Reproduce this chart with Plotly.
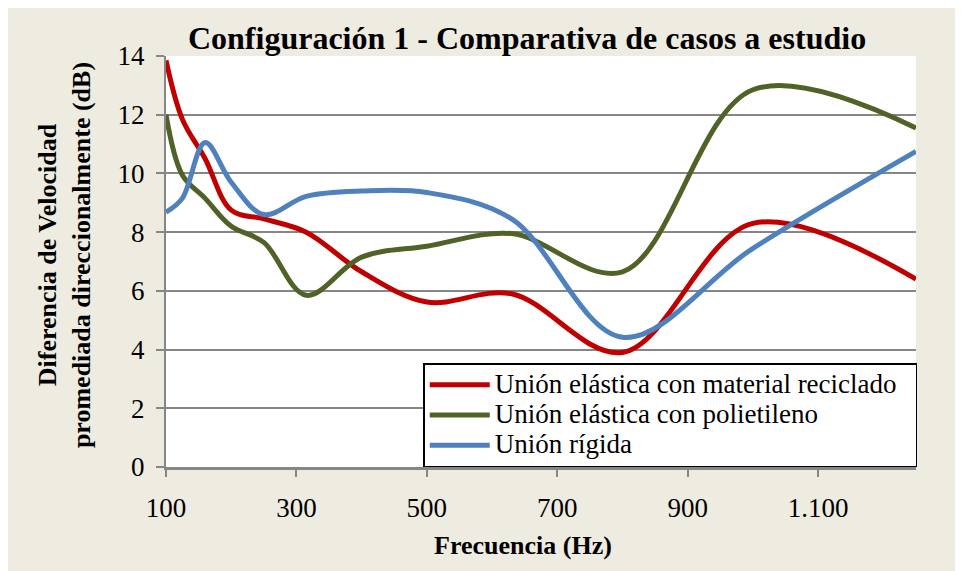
import plotly.graph_objects as go

# 1/3 octave band centres (Hz)
frecuencias = [100, 125, 160, 200, 250, 315, 400, 500, 630, 800, 1000, 1250]

# Diferencia de velocidad (dB) per case
reciclado = [13.85, 11.85, 10.5, 8.75, 8.45, 8.0, 6.65, 5.62, 5.9, 3.9, 8.3, 6.4]
polietileno = [12.0, 9.95, 9.15, 8.2, 7.65, 5.85, 7.15, 7.52, 7.95, 6.65, 12.85, 11.55]
rigida = [8.68, 9.15, 11.05, 9.7, 8.6, 9.22, 9.4, 9.35, 8.45, 4.42, 7.45, 10.75]

nombres = ['Unión elástica con material reciclado',
           'Unión elástica con polietileno',
           'Unión rígida']
colores = ['#C00000', '#4F6228', '#4F81BD']

x_ticks = [100, 300, 500, 700, 900, 1100]
y_ticks = [0, 2, 4, 6, 8, 10, 12, 14]

FONT = 'Liberation Serif'

fig = go.Figure()

for serie, nombre, color in zip([reciclado, polietileno, rigida], nombres, colores):
    fig.add_trace(go.Scatter(
        x=frecuencias,
        y=serie,
        mode='lines',
        # legend rows are packed tighter than the text size would give
        name=f'<span style="font-size:27px">{nombre}\u00a0\u00a0</span>',
        line=dict(color=color, width=5, shape='spline', smoothing=1.0),
        hovertemplate='%{x} Hz<br>%{y:.2f} dB<extra></extra>'
    ))

fig.add_annotation(
    text='Diferencia de Velocidad<br>promediada direccionalmente (dB)',
    xref='paper', yref='paper', x=-0.135, y=0.515,
    xanchor='center', yanchor='middle', textangle=-90, showarrow=False,
    font=dict(family=FONT, size=26, color='black', weight='bold')
)
fig.add_annotation(
    text='Frecuencia (Hz)',
    xref='paper', yref='paper', x=0.476, y=-0.19,
    xanchor='center', yanchor='middle', showarrow=False,
    font=dict(family=FONT, size=26, color='black', weight='bold')
)

fig.update_xaxes(
    range=[100, 1250],
    tickvals=x_ticks,
    tickformat=',d',
    showgrid=False,
    showline=True, linecolor='#868686', linewidth=2.5,
    ticks='outside', ticklen=7, tickcolor='#868686', tickwidth=2,
    tickfont=dict(family=FONT, size=27, color='black'),
    ticklabelstandoff=8,
    zeroline=False
)
fig.update_yaxes(
    range=[0, 14],
    tickvals=y_ticks,
    showgrid=True, gridcolor='#868686', gridwidth=1.5,
    showline=True, linecolor='#868686', linewidth=2,
    ticks='outside', ticklen=8, tickcolor='#868686', tickwidth=1.5,
    tickfont=dict(family=FONT, size=27, color='black'),
    ticklabelstandoff=6,
    zeroline=False
)

fig.update_layout(
    width=963, height=571,
    separators=',.',
    title=dict(text='<b>Configuración 1 - Comparativa de casos a estudio</b>',
               x=0.539, xref='container', xanchor='center',
               y=0.947, yref='container', yanchor='middle',
               font=dict(family=FONT, size=32, color='black')),
    paper_bgcolor='#EEECE1',
    plot_bgcolor='white',
    margin=dict(l=158, r=55, t=48, b=112),
    showlegend=True,
    legend=dict(x=0.343, y=0.253, xanchor='left', yanchor='top',
                bgcolor='white', bordercolor='black', borderwidth=1.5,
                font=dict(family=FONT, size=21, color='black'),
                itemwidth=60, tracegroupgap=0)
)

fig.write_html('out.html')
